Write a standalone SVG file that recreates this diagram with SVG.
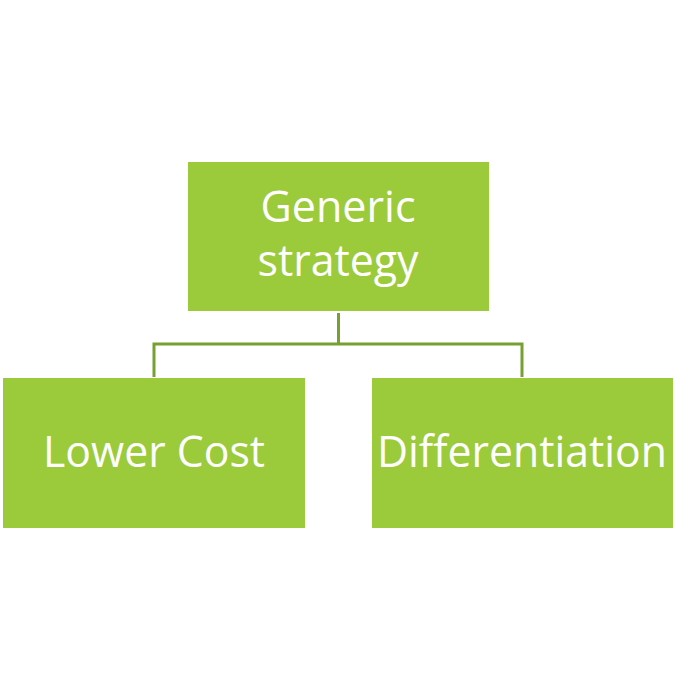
<svg xmlns="http://www.w3.org/2000/svg" width="700" height="689" viewBox="0 0 700 689">
<style>
.box{fill:#9BCB3B}
.lbl{font-family:"Open Sans","Liberation Sans",sans-serif;font-size:43px;fill:#FFFFFF;text-anchor:middle}
.con{stroke:#77A032;stroke-width:3;fill:none}
</style>
<rect width="700" height="689" fill="#FFFFFF"/>
<g id="connectors">
<path class="con" d="M338.5 313 V344 M154 344 H522 M154 342.5 V377 M522 342.5 V377"/>
</g>
<g id="node-generic">
<rect class="box" x="188" y="162" width="301" height="149"/>
<text class="lbl" x="338" y="222" textLength="155" lengthAdjust="spacingAndGlyphs">Generic</text>
<text class="lbl" x="338" y="276" textLength="161" lengthAdjust="spacingAndGlyphs">strategy</text>
</g>
<g id="node-lower">
<rect class="box" x="3" y="378" width="302" height="150"/>
<text class="lbl" x="154" y="467" textLength="222" lengthAdjust="spacingAndGlyphs">Lower Cost</text>
</g>
<g id="node-diff">
<rect class="box" x="372" y="378" width="301" height="150"/>
<text class="lbl" x="522" y="467" textLength="290" lengthAdjust="spacingAndGlyphs">Differentiation</text>
</g>
</svg>
